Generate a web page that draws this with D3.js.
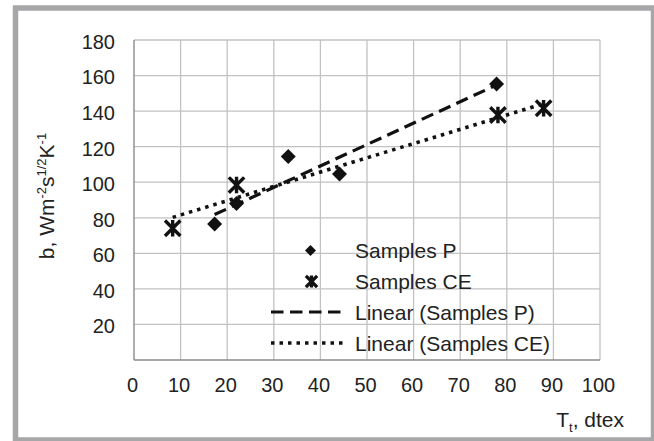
<!DOCTYPE html>
<html>
<head>
<meta charset="utf-8">
<script src="https://cdn.jsdelivr.net/npm/d3@7"></script>
<style>
  html, body { margin: 0; padding: 0; background: #fff; }
  svg { display: block; font-family: "Liberation Sans", Arial, sans-serif; }
</style>
</head>
<body>
<svg id="chart" width="654" height="441"></svg>
<script>
// ---- data ----
const xTicks = [0, 10, 20, 30, 40, 50, 60, 70, 80, 90, 100];
const yTicks = [20, 40, 60, 80, 100, 120, 140, 160, 180];
const samplesPX = [17.3, 22.0, 33.1, 44.1, 77.8];
const samplesPY = [76.5, 88.1, 114.4, 104.6, 155.3];
const samplesCEX = [8.3, 22.0, 78.1, 87.9];
const samplesCEY = [74.1, 98.4, 137.8, 141.6];
const legendLabels = ["Samples P", "Samples CE", "Linear (Samples P)", "Linear (Samples CE)"];

// ---- layout ----
const svg = d3.select("#chart");
const W = 654, H = 441;
const x = d3.scaleLinear().domain([0, 100]).range([134, 600]);
const y = d3.scaleLinear().domain([0, 180]).range([360, 40]);
const textColor = "#222";

svg.append("rect").attr("width", W).attr("height", H).attr("fill", "#fff");
// outer frame
svg.append("rect")
  .attr("x", 15.5).attr("y", 8).attr("width", 638).attr("height", 432)
  .attr("fill", "none").attr("stroke", "#a7a7a9").attr("stroke-width", 5.5);

// grid
const grid = svg.append("g");
grid.selectAll("line.h").data(yTicks).join("line")
  .attr("x1", x(0)).attr("x2", x(100))
  .attr("y1", d => y(d)).attr("y2", d => y(d))
  .attr("stroke", "#c2c2c2").attr("stroke-width", 1.3);
grid.selectAll("line.v").data(xTicks.filter(d => d > 0)).join("line")
  .attr("x1", d => x(d)).attr("x2", d => x(d))
  .attr("y1", y(0)).attr("y2", y(180))
  .attr("stroke", "#c2c2c2").attr("stroke-width", 1.3);

// axes lines
svg.append("line").attr("x1", x(0)).attr("x2", x(0)).attr("y1", y(0)).attr("y2", y(180))
  .attr("stroke", "#8a8a8a").attr("stroke-width", 1.4);
svg.append("line").attr("x1", x(0)).attr("x2", x(100)).attr("y1", y(0)).attr("y2", y(0))
  .attr("stroke", "#8a8a8a").attr("stroke-width", 1.4);

// y axis tick labels via d3 axis
const yAxis = d3.axisLeft(y).tickValues(yTicks).tickSize(0).tickPadding(19);
const gy = svg.append("g").attr("transform", `translate(${x(0)},0)`).call(yAxis);
gy.select(".domain").remove();
gy.selectAll("text").attr("font-size", 20).attr("fill", textColor)
  .attr("font-family", "Liberation Sans, Arial, sans-serif").attr("dy", "0.42em");

// x axis tick labels
const xAxis = d3.axisBottom(x).tickValues(xTicks).tickSize(0).tickPadding(18);
const gx = svg.append("g").attr("transform", `translate(0,${y(0)})`).call(xAxis);
gx.select(".domain").remove();
gx.selectAll("text").attr("font-size", 20).attr("fill", textColor)
  .attr("font-family", "Liberation Sans, Arial, sans-serif").attr("dx", "-2");

// axis titles
const yt = svg.append("text")
  .attr("transform", "translate(54,196) rotate(-90)")
  .attr("text-anchor", "middle").attr("font-size", 21).attr("fill", textColor);
yt.append("tspan").text("b, Wm");
yt.append("tspan").attr("font-size", 13).attr("dy", -8).text("-2");
yt.append("tspan").attr("dy", 8).text("s");
yt.append("tspan").attr("font-size", 13).attr("dy", -8).text("1/2");
yt.append("tspan").attr("dy", 8).text("K");
yt.append("tspan").attr("font-size", 13).attr("dy", -8).text("-1");

const xt = svg.append("text")
  .attr("x", 624).attr("y", 427).attr("text-anchor", "end")
  .attr("font-size", 21).attr("fill", textColor);
xt.append("tspan").text("T");
xt.append("tspan").attr("font-size", 13).attr("dy", 5).text("t");
xt.append("tspan").attr("dy", -5).text(", dtex");

// ---- linear trend lines (least squares fits of the samples) ----
function fit(xs, ys) {
  const mx = d3.mean(xs), my = d3.mean(ys);
  let sxy = 0, sxx = 0;
  xs.forEach((v, i) => { sxy += (v - mx) * (ys[i] - my); sxx += (v - mx) * (v - mx); });
  const b = sxy / sxx, a = my - b * mx;
  const x0 = d3.min(xs), x1 = d3.max(xs);
  return [[x0, a + b * x0], [x1, a + b * x1]];
}
const line = d3.line().x(d => x(d[0])).y(d => y(d[1]));
const dashStyle = "12.5 6.5";
const dotStyle = "3.5 5";
svg.append("path").attr("d", line(fit(samplesPX, samplesPY)))
  .attr("fill", "none").attr("stroke", "#111").attr("stroke-width", 3.2)
  .attr("stroke-dasharray", dashStyle);
svg.append("path").attr("d", line(fit(samplesCEX, samplesCEY)))
  .attr("fill", "none").attr("stroke", "#111").attr("stroke-width", 3.6)
  .attr("stroke-dasharray", dotStyle);

// ---- markers ----
function diamond(g, cx, cy, r) {
  g.append("path")
    .attr("d", `M${cx},${cy - r}L${cx + r},${cy}L${cx},${cy + r}L${cx - r},${cy}Z`)
    .attr("fill", "#111");
}
function star(g, cx, cy, r, sw) {
  const p = `M${cx - r},${cy - r}L${cx + r},${cy + r}M${cx + r},${cy - r}L${cx - r},${cy + r}` +
            `M${cx},${cy - r}L${cx},${cy + r}`;
  g.append("path").attr("d", p).attr("fill", "none").attr("stroke", "#111")
    .attr("stroke-width", sw).attr("stroke-linecap", "square");
}
const marks = svg.append("g");
samplesPX.forEach((v, i) => diamond(marks, x(v), y(samplesPY[i]), 7.5));
samplesCEX.forEach((v, i) => star(marks, x(v), y(samplesCEY[i]), 6.5, 3.4));

// ---- legend ----
const lg = svg.append("g");
const rowY = [250.5, 281.5, 312, 343];
diamond(lg, 310.5, rowY[0], 5.5);
star(lg, 311.5, rowY[1], 4.5, 3.2);
lg.append("line").attr("x1", 271).attr("x2", 346).attr("y1", rowY[2]).attr("y2", rowY[2])
  .attr("stroke", "#111").attr("stroke-width", 3.2).attr("stroke-dasharray", dashStyle);
lg.append("line").attr("x1", 271).attr("x2", 346).attr("y1", rowY[3]).attr("y2", rowY[3])
  .attr("stroke", "#111").attr("stroke-width", 3.6).attr("stroke-dasharray", dotStyle);
lg.selectAll("text.lbl").data(legendLabels).join("text")
  .attr("x", 355).attr("y", (d, i) => rowY[i]).attr("dy", "0.36em")
  .attr("font-size", 21).attr("fill", textColor).text(d => d);
</script>
</body>
</html>
